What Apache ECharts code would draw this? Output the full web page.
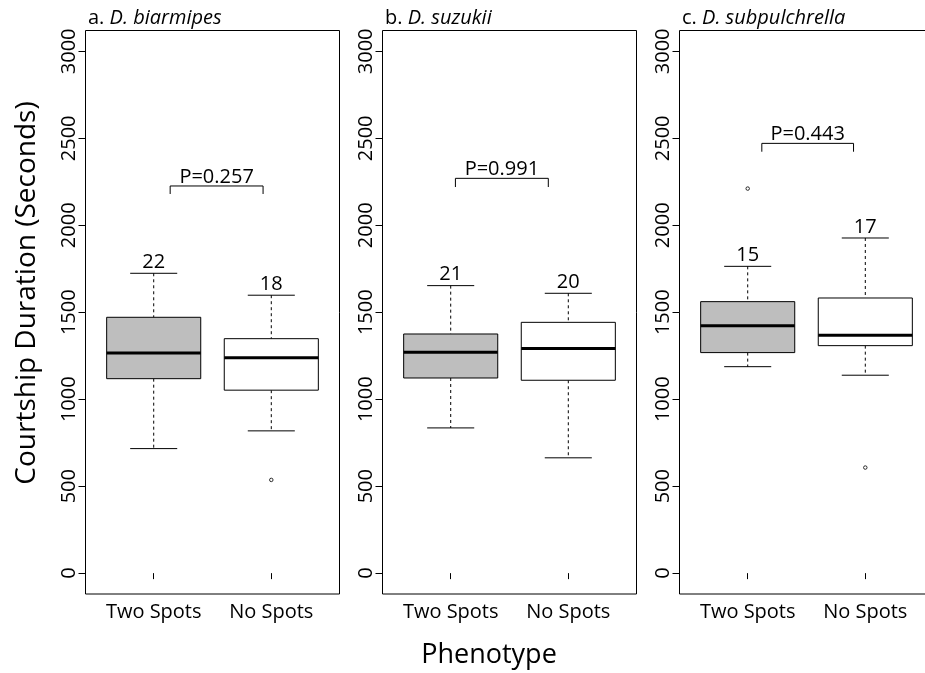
<!DOCTYPE html>
<html><head><meta charset="utf-8">
<script src="https://cdn.jsdelivr.net/npm/echarts@6/dist/echarts.min.js"></script>
<style>html,body{margin:0;padding:0;background:#fff}#c{width:925px;height:673px}</style>
</head><body><div id="c"></div>
<script>
// ---------- data ----------
const categories = ['Two Spots', 'No Spots'];
const panelPrefix = ['a. ', 'b. ', 'c. '];
const species = ['D. biarmipes', 'D. suzukii', 'D. subpulchrella'];
const yTicks = [0, 500, 1000, 1500, 2000, 2500, 3000];
// each box: [lower whisker, Q1, median, Q3, upper whisker]
const boxA = [[716, 1118, 1266, 1471, 1724], [818, 1052, 1239, 1348, 1598]];
const boxB = [[835, 1122, 1270, 1375, 1653], [663, 1109, 1291, 1442, 1609]];
const boxC = [[1187, 1268, 1423, 1561, 1764], [1138, 1308, 1368, 1582, 1927]];
// outliers: [category index (1-based), value]
const outliersA = [[2, 536]];
const outliersB = [];
const outliersC = [[1, 2211], [2, 607]];
const countsA = [22, 18];
const countsB = [21, 20];
const countsC = [15, 17];
const pLabels = ['P=0.257', 'P=0.991', 'P=0.443'];
// bracket: [x start, x end, top value, tip value]
const bracketA = [1.14, 1.93, 2226, 2180];
const bracketB = [1.04, 1.83, 2270, 2220];
const bracketC = [1.12, 1.90, 2471, 2423];

const boxes = [boxA, boxB, boxC];
const outliers = [outliersA, outliersB, outliersC];
const counts = [countsA, countsB, countsC];
const brackets = [bracketA, bracketB, bracketC];

// ---------- layout ----------
const FONT = 'Open Sans';
const gridLefts = [85.5, 382.5, 679.5];
const GRID_TOP = 30.5, GRID_H = 563.5, GRID_W = 254;

const chart = echarts.init(document.getElementById('c'), null, {renderer: 'canvas'});

const grids = [], xAxes = [], yAxes = [], series = [], titles = [];
for (let k = 0; k < 3; k++) {
  grids.push({
    left: gridLefts[k], top: GRID_TOP, width: GRID_W, height: GRID_H,
    show: true, borderColor: '#000', borderWidth: 1, backgroundColor: 'transparent',
    containLabel: false, outerBoundsMode: 'none'
  });
  xAxes.push({
    type: 'value', gridIndex: k, min: 0.42, max: 2.58,
    axisLine: {show: false}, splitLine: {show: false},
    axisTick: {show: true, length: 6, customValues: [1, 2], lineStyle: {color: '#000'}},
    axisLabel: {
      customValues: [1, 2], margin: 8, color: '#000', fontSize: 20, fontFamily: FONT,
      formatter: v => categories[Math.round(v) - 1]
    }
  });
  yAxes.push({
    type: 'value', gridIndex: k, min: -120, max: 3120,
    axisLine: {show: false}, splitLine: {show: false},
    axisTick: {show: true, length: 7, customValues: yTicks, lineStyle: {color: '#000'}},
    axisLabel: {customValues: yTicks, rotate: 90, margin: 6, color: '#000', fontSize: 20, fontFamily: FONT,
      formatter: v => String(v)}
  });
  titles.push({
    left: gridLefts[k] + 2.5, top: 6, padding: 0,
    text: '{n|' + panelPrefix[k] + '}{i|' + species[k] + '}',
    textStyle: {
      fontWeight: 'normal', fontSize: 20,
      rich: {
        n: {fontSize: 20, fontFamily: FONT, color: '#000', fontWeight: 'normal', lineHeight: 24},
        i: {fontSize: 20, fontFamily: FONT, color: '#000', fontWeight: 'normal', fontStyle: 'italic', lineHeight: 24}
      }
    }
  });

  const boxData = boxes[k].map((b, i) => [i + 1, b[0], b[1], b[2], b[3], b[4], counts[k][i]]);
  series.push({
    type: 'custom', xAxisIndex: k, yAxisIndex: k, clip: false,
    encode: {x: 0, y: [1, 5]},
    data: boxData,
    renderItem: (params, api) => {
      const x = api.value(0);
      const lo = api.value(1), q1 = api.value(2), md = api.value(3), q3 = api.value(4), hi = api.value(5);
      const n = api.value(6);
      const half = 0.4, st = 0.2;
      const c = api.coord([x, md]);
      const xl = api.coord([x - half, md])[0], xr = api.coord([x + half, md])[0];
      const sl = api.coord([x - st, md])[0], sr = api.coord([x + st, md])[0];
      const yLo = api.coord([x, lo])[1], yQ1 = api.coord([x, q1])[1];
      const yMd = c[1], yQ3 = api.coord([x, q3])[1], yHi = api.coord([x, hi])[1];
      const cx = c[0];
      const thin = {stroke: '#000', lineWidth: 1};
      const dash = {stroke: '#000', lineWidth: 1, lineDash: [3, 3]};
      return {
        type: 'group',
        children: [
          {type: 'line', shape: {x1: cx, y1: yHi, x2: cx, y2: yQ3}, style: dash},
          {type: 'line', shape: {x1: cx, y1: yQ1, x2: cx, y2: yLo}, style: dash},
          {type: 'line', shape: {x1: sl, y1: yHi, x2: sr, y2: yHi}, style: thin},
          {type: 'line', shape: {x1: sl, y1: yLo, x2: sr, y2: yLo}, style: thin},
          {type: 'rect', shape: {x: xl, y: yQ3, width: xr - xl, height: yQ1 - yQ3},
            style: {fill: x === 1 ? '#BEBEBE' : '#FFFFFF', stroke: '#000', lineWidth: 1}},
          {type: 'line', shape: {x1: xl, y1: yMd, x2: xr, y2: yMd}, style: {stroke: '#000', lineWidth: 3}},
          {type: 'text', x: cx, y: yHi - 11,
            style: {text: String(n), fill: '#000', fontSize: 20, fontFamily: FONT, align: 'center', verticalAlign: 'middle'}}
        ]
      };
    }
  });

  series.push({
    type: 'scatter', xAxisIndex: k, yAxisIndex: k,
    data: outliers[k], symbol: 'circle', symbolSize: 3.5,
    itemStyle: {color: '#fff', borderColor: '#000', borderWidth: 1}
  });

  series.push({
    type: 'custom', xAxisIndex: k, yAxisIndex: k, clip: false,
    encode: {x: [0, 1], y: [2, 3]},
    data: [brackets[k]],
    renderItem: (params, api) => {
      const p1 = api.coord([api.value(0), api.value(3)]);
      const p2 = api.coord([api.value(0), api.value(2)]);
      const p3 = api.coord([api.value(1), api.value(2)]);
      const p4 = api.coord([api.value(1), api.value(3)]);
      return {
        type: 'group',
        children: [
          {type: 'polyline', shape: {points: [p1, p2, p3, p4]}, style: {stroke: '#000', lineWidth: 1, fill: null}},
          {type: 'text', x: (p2[0] + p3[0]) / 2, y: p2[1] - 9,
            style: {text: pLabels[k], fill: '#000', fontSize: 20, fontFamily: FONT, align: 'center', verticalAlign: 'middle'}}
        ]
      };
    }
  });
}

chart.setOption({
  animation: false,
  backgroundColor: '#fff',
  title: titles,
  grid: grids,
  xAxis: xAxes,
  yAxis: yAxes,
  series: series,
  graphic: [
    {type: 'text', x: 27, y: 293, rotation: Math.PI / 2,
      style: {text: 'Courtship Duration (Seconds)', fill: '#000', fontSize: 28, fontFamily: FONT, align: 'center', verticalAlign: 'middle'}},
    {type: 'text', x: 489, y: 655,
      style: {text: 'Phenotype', fill: '#000', fontSize: 27, fontFamily: FONT, align: 'center', verticalAlign: 'middle'}}
  ]
});
</script>
</body></html>
